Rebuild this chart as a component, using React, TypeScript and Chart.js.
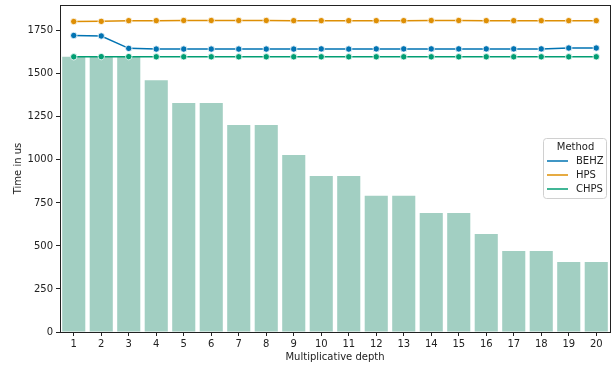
import React, { useEffect, useRef } from "react";
import { Chart, registerables } from "chart.js";

Chart.register(...registerables);

const categories = ["1","2","3","4","5","6","7","8","9","10","11","12","13","14","15","16","17","18","19","20"];
const barValues = [1600,1600,1600,1463,1331,1331,1203,1203,1029,907,907,791,791,692,692,570,471,471,407,407];
const behz = [1723,1720,1648,1644,1644,1644,1644,1644,1644,1645,1644,1645,1645,1645,1645,1645,1645,1645,1650,1650];
const hps = [1804,1805,1809,1809,1810,1810,1810,1810,1809,1809,1809,1809,1809,1810,1810,1809,1809,1809,1809,1809];
const chps = [1599,1600,1600,1599,1599,1599,1599,1599,1599,1599,1599,1599,1599,1599,1599,1599,1599,1599,1599,1599];
const yTicks = [0,250,500,750,1000,1250,1500,1750];
const legendTitle = "Method";
const seriesNames = ["BEHZ","HPS","CHPS"];
const seriesColors = ["#0173b2","#de8f05","#029e73"];

const FONT = "'DejaVu Sans', sans-serif";

const frame = {
  id: "frame",
  afterDatasetsDraw(chart: any) {
    const { ctx, chartArea: a } = chart;
    ctx.save();
    ctx.strokeStyle = "#222";
    ctx.lineWidth = 1;
    ctx.strokeRect(Math.round(a.left) + 0.5, Math.round(a.top) + 0.5, Math.round(a.right - a.left), Math.round(a.bottom - a.top));
    ctx.restore();
  },
  afterDraw(chart: any) {
    const { ctx, chartArea: a } = chart;
    const x0 = a.right - 67, y0 = a.top + 133, w = 63, h = 60;
    ctx.save();
    ctx.fillStyle = "rgba(255,255,255,0.85)";
    ctx.strokeStyle = "#d0d0d0";
    ctx.lineWidth = 1;
    ctx.beginPath();
    (ctx as any).roundRect(x0 + 0.5, y0 + 0.5, w, h, 3);
    ctx.fill();
    ctx.stroke();
    ctx.fillStyle = "#222";
    ctx.font = `10px ${FONT}`;
    ctx.textBaseline = "middle";
    ctx.textAlign = "center";
    ctx.fillText(legendTitle, x0 + w / 2 + 1, y0 + 9);
    ctx.textAlign = "left";
    seriesNames.forEach((n, i) => {
      const y = y0 + 23 + i * 14;
      ctx.strokeStyle = seriesColors[i];
      ctx.lineWidth = 1.5;
      ctx.beginPath();
      ctx.moveTo(x0 + 4, y);
      ctx.lineTo(x0 + 25, y);
      ctx.stroke();
      ctx.fillStyle = "#222";
      ctx.fillText(n, x0 + 33, y);
    });
    ctx.restore();
  },
};

export default function App() {
  const ref = useRef<HTMLCanvasElement>(null);
  useEffect(() => {
    document.body.style.margin = "0";
    const lineDs = (label: string, data: number[], color: string) => ({
      type: "line" as const,
      label,
      data,
      borderColor: color,
      backgroundColor: color,
      borderWidth: 1.5,
      pointRadius: 3.2,
      pointBorderColor: "#fff",
      pointBorderWidth: 0.8,
      pointBackgroundColor: color,
      order: 0,
    });
    const chart = new Chart(ref.current!, {
      type: "bar",
      data: {
        labels: categories,
        datasets: [
          {
            type: "bar",
            label: "bars",
            data: barValues,
            backgroundColor: "rgb(162,207,194)",
            categoryPercentage: 1,
            barPercentage: 0.84,
            order: 1,
          } as any,
          lineDs(seriesNames[0], behz, seriesColors[0]),
          lineDs(seriesNames[1], hps, seriesColors[1]),
          lineDs(seriesNames[2], chps, seriesColors[2]),
        ],
      },
      options: {
        animation: false,
        responsive: false,
        devicePixelRatio: 1,
        layout: { padding: { left: 0, right: 6, top: 5, bottom: 0 } },
        plugins: { legend: { display: false }, tooltip: { enabled: false } },
        scales: {
          x: {
            offset: true,
            afterFit: (s: any) => { s.height = 34; s.paddingLeft = 0; s.paddingRight = 0; },
            grid: { display: true, drawOnChartArea: false, tickLength: 4, color: "#222", offset: false },
            border: { display: false },
            ticks: { color: "#222", font: { family: FONT, size: 10 }, padding: 2, maxRotation: 0, autoSkip: false },
            title: { display: true, text: "Multiplicative depth", color: "#222", font: { family: FONT, size: 10 }, padding: { top: 0, bottom: 3 } },
          },
          y: {
            min: 0,
            max: 1900,
            afterBuildTicks: (s: any) => { s.ticks = yTicks.map((v) => ({ value: v })); },
            afterFit: (s: any) => { s.width = 60; s.paddingTop = 0; s.paddingBottom = 0; },
            grid: { display: true, drawOnChartArea: false, tickLength: 4, color: "#222" },
            border: { display: false },
            ticks: { color: "#222", font: { family: FONT, size: 10 }, padding: 3, callback: (v: any) => String(v) },
            title: { display: true, text: "Time in us", color: "#222", font: { family: FONT, size: 10 }, padding: { top: 12, bottom: 4 } },
          },
        },
      },
      plugins: [frame],
    });
    return () => chart.destroy();
  }, []);
  return <canvas ref={ref} width={616} height={366} style={{ display: "block" }} />;
}
